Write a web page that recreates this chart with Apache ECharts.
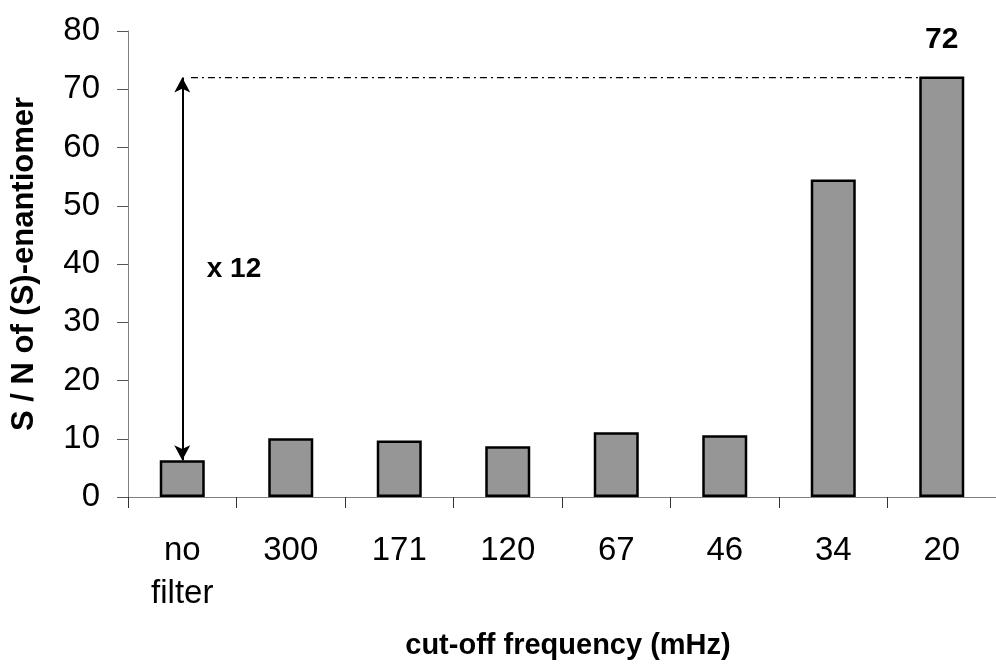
<!DOCTYPE html>
<html>
<head>
<meta charset="utf-8">
<script src="https://cdn.jsdelivr.net/npm/echarts@6/dist/echarts.min.js"></script>
<style>
  html, body { margin: 0; padding: 0; background: #fff; }
  #chart { width: 996px; height: 666px; }
</style>
</head>
<body>
<div id="chart"></div>
<script>
// cut-off frequencies (mHz) and the signal/noise
const categories = ['no\nfilter', '300', '171', '120', '67', '46', '34', '20'];
const snValues = [6.3, 10.1, 9.7, 8.7, 11.1, 10.6, 54.5, 72.2];
const yTicks = { min: 0, max: 80, interval: 10 };
// dash-dot guide at the peak level, drawn between these category positions
const guideLevel = 72;
const guideFrom = 0.08, guideTo = 6.79;
const ratioText = 'x 12';

const font = "'Liberation Sans', Arial, sans-serif";

const chart = echarts.init(document.getElementById('chart'));

const barData = snValues.map((v, i) => {
    if (i !== snValues.length - 1) return v;
    return {
        value: v,
        label: {
            show: true, position: 'top', distance: 22,
            formatter: p => Math.round(p.value),
            fontFamily: font, fontSize: 30, fontWeight: 'bold', color: '#000'
        }
    };
});

chart.setOption({
    animation: false,
    backgroundColor: '#fff',
    grid: { left: 128, right: -12, top: 31, bottom: 169 },
    xAxis: [{
        type: 'category',
        data: categories,
        boundaryGap: true,
        name: 'cut-off frequency (mHz)',
        nameLocation: 'middle',
        nameGap: 134,
        nameTextStyle: { fontFamily: font, fontSize: 29, fontWeight: 'bold', color: '#000', padding: [0, 0, 0, 12] },
        axisLine: { lineStyle: { color: '#808080', width: 1 } },
        axisTick: { show: true, inside: false, length: 11, alignWithLabel: false, lineStyle: { color: '#333' } },
        axisLabel: { fontFamily: font, fontSize: 33, color: '#000', margin: 32, lineHeight: 43, interval: 0 }
    }, {
        // hidden linear twin of the category axis, used to place the guide line
        type: 'value', min: -0.5, max: categories.length - 0.5, show: false
    }],
    yAxis: {
        type: 'value',
        min: yTicks.min, max: yTicks.max, interval: yTicks.interval,
        name: 'S / N of (S)-enantiomer',
        nameLocation: 'middle',
        nameGap: 88,
        nameTextStyle: { fontFamily: font, fontSize: 31, fontWeight: 'bold', color: '#000' },
        axisLine: { show: true, onZero: false, lineStyle: { color: '#808080', width: 1 } },
        axisTick: { show: true, inside: false, length: 11, lineStyle: { color: '#555' } },
        axisLabel: { fontFamily: font, fontSize: 33, color: '#000', margin: 28 },
        splitLine: { show: false }
    },
    series: [{
        type: 'bar',
        data: barData,
        barWidth: 45,
        itemStyle: { color: '#969696', borderColor: '#000', borderWidth: 2.5 },
        markLine: {
            silent: true,
            symbol: ['arrow', 'arrow'],
            symbolSize: [12, 15],
            lineStyle: { color: '#000', width: 2, type: 'solid' },
            label: { show: false },
            data: [[{ coord: [0, snValues[0]] }, { coord: [0, guideLevel] }]]
        },
        markPoint: {
            silent: true,
            symbol: 'circle',
            symbolSize: 1,
            itemStyle: { color: 'rgba(0,0,0,0)' },
            label: {
                show: true, position: 'right', distance: 24,
                formatter: ratioText,
                fontFamily: font, fontSize: 28, fontWeight: 'bold', color: '#000'
            },
            data: [{ coord: [0, (snValues[0] + guideLevel) / 2] }]
        }
    }, {
        type: 'line',
        xAxisIndex: 1,
        data: [[guideFrom, guideLevel], [guideTo, guideLevel]],
        symbol: 'none',
        silent: true,
        lineStyle: { color: '#000', width: 1.2, type: [7, 4, 2, 4] },
        z: 1
    }]
});
</script>
</body>
</html>
